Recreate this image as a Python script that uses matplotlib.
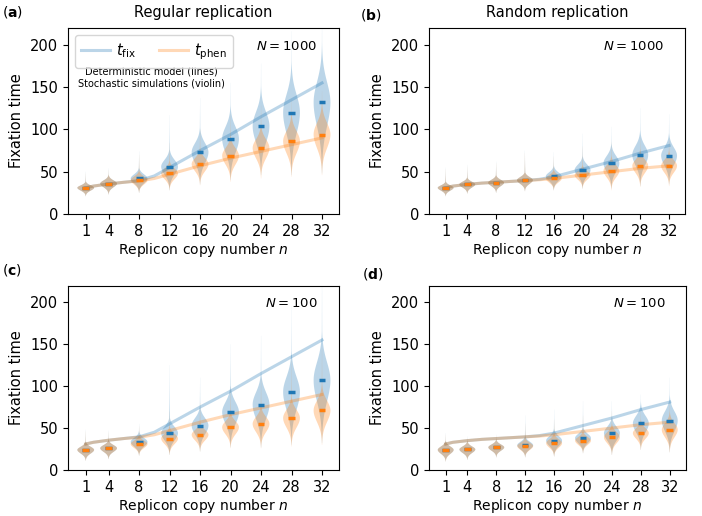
import numpy as np
import matplotlib.pyplot as plt

# copy numbers used in the simulations
n_sim = [1, 4, 8, 12, 16, 20, 24, 28, 32]

# deterministic model (lines)
n_model_reg = [1, 2, 4, 6, 8, 10, 12, 16, 20, 24, 28, 32]
fix_model_reg = [31, 33, 35.5, 37.5, 39.5, 45, 55, 75, 94, 115, 135, 155]
phen_model_reg = [31, 33, 35.5, 37.5, 39, 42, 47, 57, 66, 74, 82, 90]

n_model_rnd = [1, 2, 4, 6, 8, 12, 14, 16, 20, 24, 28, 32]
fix_model_rnd = [31, 33, 35, 36.5, 37.5, 39.5, 41, 44, 53, 62, 72, 81]
phen_model_rnd = [31, 33, 35, 36.5, 37.5, 39.5, 40.5, 42, 46, 50, 54, 57]

# stochastic simulations: medians and violin extents (low, high)
# (a) regular, N=1000
fix_med_a = [31, 36, 42, 56, 73, 89, 104, 120, 132]
fix_lo_a = [21, 23, 25, 28, 35, 40, 46, 46, 48]
fix_hi_a = [50, 54, 74, 117, 137, 155, 178, 216, 225]
phen_med_a = [31, 36, 40, 48, 59, 69, 78, 86, 94]
phen_lo_a = [21, 23, 25, 28, 34, 38, 42, 44, 46]
phen_hi_a = [48, 52, 70, 84, 100, 118, 128, 136, 145]

# (b) random, N=1000
fix_med_b = [31, 35, 37, 40, 44.5, 52, 60, 70, 69]
fix_lo_b = [21, 24, 25, 27, 28, 30, 30, 33, 35]
fix_hi_b = [55, 58, 62, 75, 73, 95, 103, 125, 118]
phen_med_b = [31, 35, 37, 40, 42, 46, 51, 57, 57]
phen_lo_b = [21, 24, 25, 27, 28, 30, 28, 32, 33]
phen_hi_b = [53, 56, 60, 72, 68, 80, 85, 90, 90]

# (c) regular, N=100
fix_med_c = [24, 26, 33.5, 44, 53, 69, 78, 93, 107]
fix_lo_c = [11, 13, 17, 18, 22, 27, 27, 30, 32]
fix_hi_c = [48, 47, 55, 125, 110, 150, 160, 195, 225]
phen_med_c = [24, 26, 31, 37.5, 42, 51, 55, 62, 71]
phen_lo_c = [11, 13, 17, 18, 22, 26, 26, 28, 30]
phen_hi_c = [46, 45, 52, 70, 80, 100, 110, 130, 145]

# (d) random, N=100
fix_med_d = [24, 24.5, 27, 29.5, 35, 38, 44, 55.5, 59]
fix_lo_d = [10, 12, 15, 15, 16, 20, 18, 24, 21]
fix_hi_d = [44, 40, 42, 65, 72, 82, 82, 90, 110]
phen_med_d = [24, 24.5, 27, 28.5, 32, 35, 39, 44, 48]
phen_lo_d = [10, 12, 15, 15, 16, 20, 18, 24, 21]
phen_hi_d = [42, 38, 40, 55, 60, 65, 70, 70, 80]

xticks = [1, 4, 8, 12, 16, 20, 24, 28, 32]


def ViolinStats(lo, med, hi):
    """violin outline from low end, median and high end"""
    y = np.linspace(lo, hi, 300)
    s = (med - lo) / 3.0
    su = s * 0.85
    core = np.where(y < med, np.exp(-0.5 * ((y - med) / s) ** 2),
                    np.exp(-0.5 * ((y - med) / su) ** 2))
    tail = np.where(y > med, 0.1 * np.exp(-(y - med) / ((hi - med) / 3.0)), 0.0)
    return dict(coords=y, vals=np.maximum(core, tail), mean=med, median=med,
                min=lo, max=hi)


def PlotPanel(ax, n_model, fix_model, phen_model, sims, label_n):
    ax.plot(n_model, fix_model, color="C0", alpha=0.3, lw=2.2, label=r"$t_{\rm fix}$")
    ax.plot(n_model, phen_model, color="C1", alpha=0.3, lw=2.2, label=r"$t_{\rm phen}$")
    for (med, lo, hi), color in zip(sims, ["C0", "C1"]):
        stats = [ViolinStats(l, m, h) for l, m, h in zip(lo, med, hi)]
        parts = ax.violin(stats, positions=n_sim, widths=2.2, showmeans=False,
                          showextrema=False, showmedians=False)
        for body in parts["bodies"]:
            body.set_facecolor(color)
            body.set_edgecolor("none")
            body.set_alpha(0.3)
    for (med, lo, hi), color in zip(sims, ["C0", "C1"]):
        ax.hlines(med, np.array(n_sim) - 0.45, np.array(n_sim) + 0.45,
                  colors=color, lw=2.5, zorder=4)
    ax.set_xlim(-1.35, 34.2)
    ax.set_ylim(0, 220)
    ax.set_xticks(xticks)
    ax.set_yticks([0, 50, 100, 150, 200])
    ax.tick_params(labelsize=10.5)
    ax.set_xlabel(r"Replicon copy number $n$", fontsize=10, labelpad=1.5)
    ax.set_ylabel("Fixation time", fontsize=10.5)
    ax.text(0.92, 0.9, label_n, transform=ax.transAxes, ha="right", va="center",
            fontsize=9.5)


fig = plt.figure(figsize=(7.02, 5.16), dpi=100)
ax_a = fig.add_axes([0.0966, 0.5853, 0.3860, 0.3605])
ax_b = fig.add_axes([0.6107, 0.5853, 0.3650, 0.3605])
ax_c = fig.add_axes([0.0966, 0.0892, 0.3860, 0.3575])
ax_d = fig.add_axes([0.6107, 0.0892, 0.3660, 0.3575])

PlotPanel(ax_a, n_model_reg, fix_model_reg, phen_model_reg,
          [(fix_med_a, fix_lo_a, fix_hi_a), (phen_med_a, phen_lo_a, phen_hi_a)],
          r"$N = 1000$")
PlotPanel(ax_b, n_model_rnd, fix_model_rnd, phen_model_rnd,
          [(fix_med_b, fix_lo_b, fix_hi_b), (phen_med_b, phen_lo_b, phen_hi_b)],
          r"$N = 1000$")
PlotPanel(ax_c, n_model_reg, fix_model_reg, phen_model_reg,
          [(fix_med_c, fix_lo_c, fix_hi_c), (phen_med_c, phen_lo_c, phen_hi_c)],
          r"$N = 100$")
PlotPanel(ax_d, n_model_rnd, fix_model_rnd, phen_model_rnd,
          [(fix_med_d, fix_lo_d, fix_hi_d), (phen_med_d, phen_lo_d, phen_hi_d)],
          r"$N = 100$")

ax_a.set_title("Regular replication", fontsize=10.5, pad=8)
ax_b.set_title("Random replication", fontsize=10.5, pad=8)
ax_a.legend(loc="upper left", ncol=2, fontsize=10.5, handlelength=2,
            handletextpad=0.4, columnspacing=1.6)
ax_a.text(0.31, 0.735, "Deterministic model (lines)\nStochastic simulations (violin)",
          transform=ax_a.transAxes, ha="center", va="center", fontsize=7,
          linespacing=1.3)

# panel labels
fig.text(0.003, 0.977, r"($\mathbf{a}$)", fontsize=10, va="center")
fig.text(0.513, 0.971, r"($\mathbf{b}$)", fontsize=10, va="center")
fig.text(0.003, 0.477, r"($\mathbf{c}$)", fontsize=10, va="center")
fig.text(0.516, 0.469, r"($\mathbf{d}$)", fontsize=10, va="center")

fig.savefig("out.png", dpi=100)
